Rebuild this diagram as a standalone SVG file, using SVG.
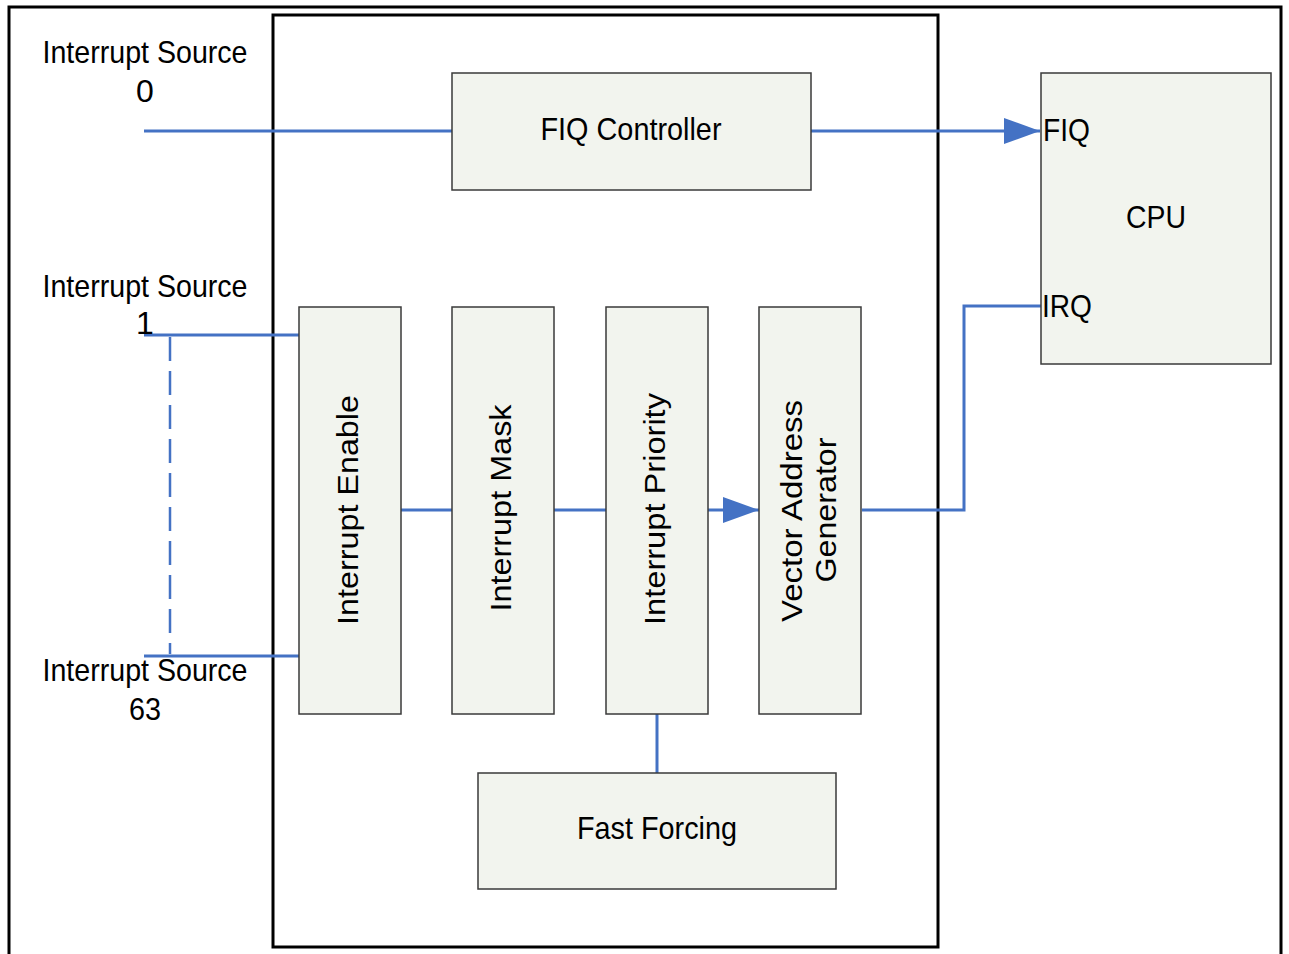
<svg xmlns="http://www.w3.org/2000/svg" width="1289" height="954" viewBox="0 0 1289 954">
<style>
.box{fill:#f2f4ee;stroke:#3a3a3a;stroke-width:1.5}
.frame{fill:none;stroke:#000;stroke-width:3}
.wire{fill:none;stroke:#4472c4;stroke-width:3}
.dash{fill:none;stroke:#4472c4;stroke-width:2.5;stroke-dasharray:24,10}
.t{font-family:"Liberation Sans",Arial,sans-serif;font-size:32px;fill:#000}
.v{font-family:"Liberation Sans",Arial,sans-serif;font-size:30px;fill:#000;text-anchor:middle}
</style>
<defs>
<marker id="arr" markerWidth="12" markerHeight="10" refX="12" refY="5" orient="auto" markerUnits="userSpaceOnUse" viewBox="0 0 12 10">
<path d="M0,0 L12,5 L0,10 Z" fill="#4472c4"/>
</marker>
<marker id="arrBig" viewBox="0 0 36 26" refX="36" refY="13" markerWidth="36" markerHeight="26" orient="auto" markerUnits="userSpaceOnUse">
<path d="M0,0 L36,13 L0,26 Z" fill="#4472c4"/>
</marker>
</defs>
<rect width="1289" height="954" fill="#fff"/>
<g id="outer-frame">
<path class="frame" d="M9,960 L9,7 L1281,7 L1281,960"/>
</g>
<g id="vic-frame">
<rect class="frame" x="273" y="15" width="665" height="932"/>
</g>
<g id="connectors">
<path class="wire" d="M144,131 L452,131"/>
<path class="wire" d="M811,131 L1040,131" marker-end="url(#arrBig)"/>
<path class="wire" d="M144,335 L299,335"/>
<path class="wire" d="M144,656 L299,656"/>
<path class="dash" d="M170,337 L170,654"/>
<path class="wire" d="M401,510 L452,510"/>
<path class="wire" d="M554,510 L606,510"/>
<path class="wire" d="M708,510 L759,510" marker-end="url(#arrBig)"/>
<path class="wire" d="M862,510 L964,510 L964,306 L1041,306"/>
<path class="wire" d="M657,714 L657,773"/>
</g>
<g id="src0">
<text class="t" x="145" y="63" text-anchor="middle" textLength="205" lengthAdjust="spacingAndGlyphs">Interrupt Source</text>
<text class="t" x="145" y="102" text-anchor="middle">0</text>
</g>
<g id="src1">
<text class="t" x="145" y="297" text-anchor="middle" textLength="205" lengthAdjust="spacingAndGlyphs">Interrupt Source</text>
<text class="t" x="145" y="334" text-anchor="middle">1</text>
</g>
<g id="src63">
<text class="t" x="145" y="681" text-anchor="middle" textLength="205" lengthAdjust="spacingAndGlyphs">Interrupt Source</text>
<text class="t" x="145" y="720" text-anchor="middle" textLength="32" lengthAdjust="spacingAndGlyphs">63</text>
</g>
<g id="fiq-controller">
<rect class="box" x="452" y="73" width="359" height="117"/>
<text class="t" x="631" y="140" text-anchor="middle" textLength="181" lengthAdjust="spacingAndGlyphs">FIQ Controller</text>
</g>
<g id="cpu">
<rect class="box" x="1041" y="73" width="230" height="291"/>
<text class="t" x="1156" y="228" text-anchor="middle" textLength="60" lengthAdjust="spacingAndGlyphs">CPU</text>
<text class="t" x="1043" y="141" textLength="47" lengthAdjust="spacingAndGlyphs">FIQ</text>
<text class="t" x="1042" y="317" textLength="50" lengthAdjust="spacingAndGlyphs">IRQ</text>
</g>
<g id="interrupt-enable">
<rect class="box" x="299" y="307" width="102" height="407"/>
<text class="v" transform="translate(358,510) rotate(-90)" textLength="230" lengthAdjust="spacingAndGlyphs">Interrupt Enable</text>
</g>
<g id="interrupt-mask">
<rect class="box" x="452" y="307" width="102" height="407"/>
<text class="v" transform="translate(511,508) rotate(-90)" textLength="207" lengthAdjust="spacingAndGlyphs">Interrupt Mask</text>
</g>
<g id="interrupt-priority">
<rect class="box" x="606" y="307" width="102" height="407"/>
<text class="v" transform="translate(665,509) rotate(-90)" textLength="232" lengthAdjust="spacingAndGlyphs">Interrupt Priority</text>
</g>
<g id="vector-address-generator">
<rect class="box" x="759" y="307" width="102" height="407"/>
<text class="v" transform="translate(802,511) rotate(-90)" textLength="222" lengthAdjust="spacingAndGlyphs">Vector Address</text>
<text class="v" transform="translate(836,510) rotate(-90)" textLength="145" lengthAdjust="spacingAndGlyphs">Generator</text>
</g>
<g id="fast-forcing">
<rect class="box" x="478" y="773" width="358" height="116"/>
<text class="t" x="657" y="839" text-anchor="middle" textLength="160" lengthAdjust="spacingAndGlyphs">Fast Forcing</text>
</g>
</svg>
